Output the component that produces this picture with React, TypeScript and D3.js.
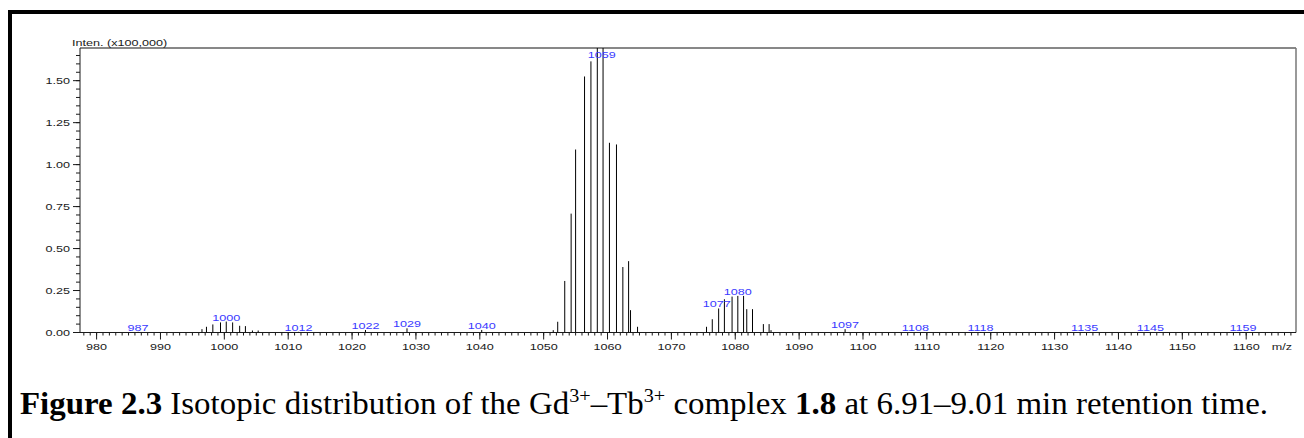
import React from "react";
import * as d3 from "d3";

// m/z of each peak and its intensity (x100,000)
const peakMz = [
  986.5, 996.5, 997.2, 998.2, 999.4, 1000.3, 1001.3, 1002.4, 1003.3, 1004.4, 1005.3,
  1011.6, 1022.1, 1028.6, 1040.3,
  1051.5, 1052.2, 1053.3, 1054.3, 1055.0, 1056.4, 1057.4, 1058.4, 1059.3, 1060.3, 1061.4,
  1062.4, 1063.3, 1063.6, 1064.7,
  1075.5, 1076.4, 1077.4, 1078.3, 1079.5, 1080.4, 1081.3, 1081.8, 1082.7, 1084.4, 1085.3, 1085.6,
  1097.2, 1108.2, 1118.4, 1134.7, 1145.0, 1159.5,
];
const peakIntensity = [
  0.004, 0.02, 0.034, 0.048, 0.06, 0.065, 0.06, 0.04, 0.038, 0.012, 0.012,
  0.004, 0.015, 0.025, 0.015,
  0.014, 0.064, 0.307, 0.708, 1.09, 1.525, 1.615, 1.72, 1.75, 1.13, 1.12,
  0.39, 0.425, 0.133, 0.034,
  0.034, 0.079, 0.143, 0.198, 0.214, 0.218, 0.218, 0.139, 0.139, 0.05, 0.05, 0.014,
  0.02, 0.003, 0.003, 0.003, 0.003, 0.003,
];
// peak annotations: text, label m/z position, peak it sits on
const labelText = ["987", "1000", "1012", "1022", "1029", "1040", "1059", "1077", "1080", "1097", "1108", "1118", "1135", "1145", "1159"];
const labelMz = [986.5, 1000.3, 1011.6, 1022.1, 1028.6, 1040.3, 1059.1, 1077.1, 1080.4, 1097.2, 1108.2, 1118.4, 1134.7, 1145.0, 1159.5];
const labelPeakMz = [986.5, 1000.3, 1011.6, 1022.1, 1028.6, 1040.3, 1059.3, 1077.4, 1080.4, 1097.2, 1108.2, 1118.4, 1134.7, 1145.0, 1159.5];

const xTicks = d3.range(980, 1161, 10);
const xMinor = d3.range(978, 1168, 1);
const yTicks = [0, 0.25, 0.5, 0.75, 1.0, 1.25, 1.5];
const yMinor = d3.range(0, 1.69, 0.05);

const X_DOMAIN = [977.4, 1167.8];
const Y_DOMAIN = [0, 1.6946];

const SX = 1.3; // horizontal stretch of the original picture

export default function App() {
  const left = 80, right = 1296, top = 48, bottom = 332.5;
  const x = d3.scaleLinear().domain(X_DOMAIN).range([left, right]);
  const y = d3.scaleLinear().domain(Y_DOMAIN).range([bottom, top]);
  const sans = "'Liberation Sans', Arial, Helvetica, sans-serif";
  const serif = "'Liberation Serif', 'Times New Roman', serif";
  const axisCol = "#1a1a1a";

  const peakTop = (m: number) => {
    const i = peakMz.indexOf(m);
    return y(Math.min(peakIntensity[i], Y_DOMAIN[1]));
  };

  return (
    <svg width={1304} height={438} style={{ position: "absolute", left: 0, top: 0, background: "#fff" }}>
      <defs>
        <clipPath id="plotClip">
          <rect x={left} y={top} width={right - left} height={bottom - top} />
        </clipPath>
      </defs>
      {/* outer frame */}
      <rect x={8} y={10} width={1296} height={4} fill="#000" />
      <rect x={8} y={10} width={4} height={428} fill="#000" />

      {/* plot frame */}
      <line x1={left} x2={right} y1={top} y2={top} stroke="#111" strokeWidth={1} />
      <line x1={right} x2={right} y1={top} y2={bottom} stroke="#777" strokeWidth={1.5} />
      <line x1={left} x2={left} y1={top} y2={bottom} stroke={axisCol} strokeWidth={1} />
      <line x1={left} x2={right} y1={bottom} y2={bottom} stroke={axisCol} strokeWidth={1} />

      {/* peaks */}
      <g clipPath="url(#plotClip)">
        {peakMz.map((m, i) => (
          <line key={i} x1={x(m)} x2={x(m)} y1={bottom} y2={y(peakIntensity[i])} stroke="#000" strokeWidth={1} />
        ))}
      </g>

      {/* y ticks */}
      {yMinor.map((v, i) => (
        <line key={"ym" + i} x1={left - 4} x2={left} y1={y(v)} y2={y(v)} stroke={axisCol} />
      ))}
      {yTicks.map((v, i) => (
        <g key={"yt" + i}>
          <line x1={left - 7} x2={left} y1={y(v)} y2={y(v)} stroke={axisCol} />
          <text
            transform={`translate(${left - 10},${y(v) + 3.5}) scale(${SX},1)`}
            textAnchor="end"
            fontFamily={sans}
            fontSize={9.7}
            fill={axisCol}
          >
            {v.toFixed(2)}
          </text>
        </g>
      ))}
      <text transform={`translate(${72},${46}) scale(${SX},1)`} fontFamily={sans} fontSize={9.7} fill={axisCol}>
        Inten. (x100,000)
      </text>

      {/* x ticks */}
      {xMinor.map((v, i) => (
        <line key={"xm" + i} x1={x(v)} x2={x(v)} y1={bottom} y2={bottom + 3} stroke={axisCol} />
      ))}
      {xTicks.map((v, i) => (
        <g key={"xt" + i}>
          <line x1={x(v)} x2={x(v)} y1={bottom} y2={bottom + 7} stroke={axisCol} />
          <text
            transform={`translate(${x(v)},${bottom + 17.5}) scale(${SX},1)`}
            textAnchor="middle"
            fontFamily={sans}
            fontSize={9.7}
            fill={axisCol}
          >
            {v}
          </text>
        </g>
      ))}
      <text transform={`translate(${1282},${bottom + 17.5}) scale(${SX},1)`} textAnchor="middle" fontFamily={sans} fontSize={9.7} fill={axisCol}>
        m/z
      </text>

      {/* peak labels */}
      {labelText.map((t, i) => (
        <text
          key={"pl" + i}
          transform={`translate(${x(labelMz[i])},${Math.max(peakTop(labelPeakMz[i]) - 1, top + 10)}) scale(${SX},1)`}
          textAnchor="middle"
          fontFamily={sans}
          fontSize={9.7}
          fill="#3a3aff"
        >
          {t}
        </text>
      ))}

      {/* caption */}
      <text x={20} y={414} fontFamily={serif} fontSize={31} fill="#000" textLength={1248} lengthAdjust="spacingAndGlyphs">
        <tspan fontWeight="bold">{"Figure 2.3"}</tspan>
        <tspan>{" Isotopic distribution of the Gd"}</tspan>
        <tspan fontSize={19} dy={-12}>{"3+"}</tspan>
        <tspan dy={12}>{"\u2013Tb"}</tspan>
        <tspan fontSize={19} dy={-12}>{"3+"}</tspan>
        <tspan dy={12}>{" complex "}</tspan>
        <tspan fontWeight="bold">{"1.8"}</tspan>
        <tspan>{" at 6.91\u20139.01 min retention time."}</tspan>
      </text>
    </svg>
  );
}
